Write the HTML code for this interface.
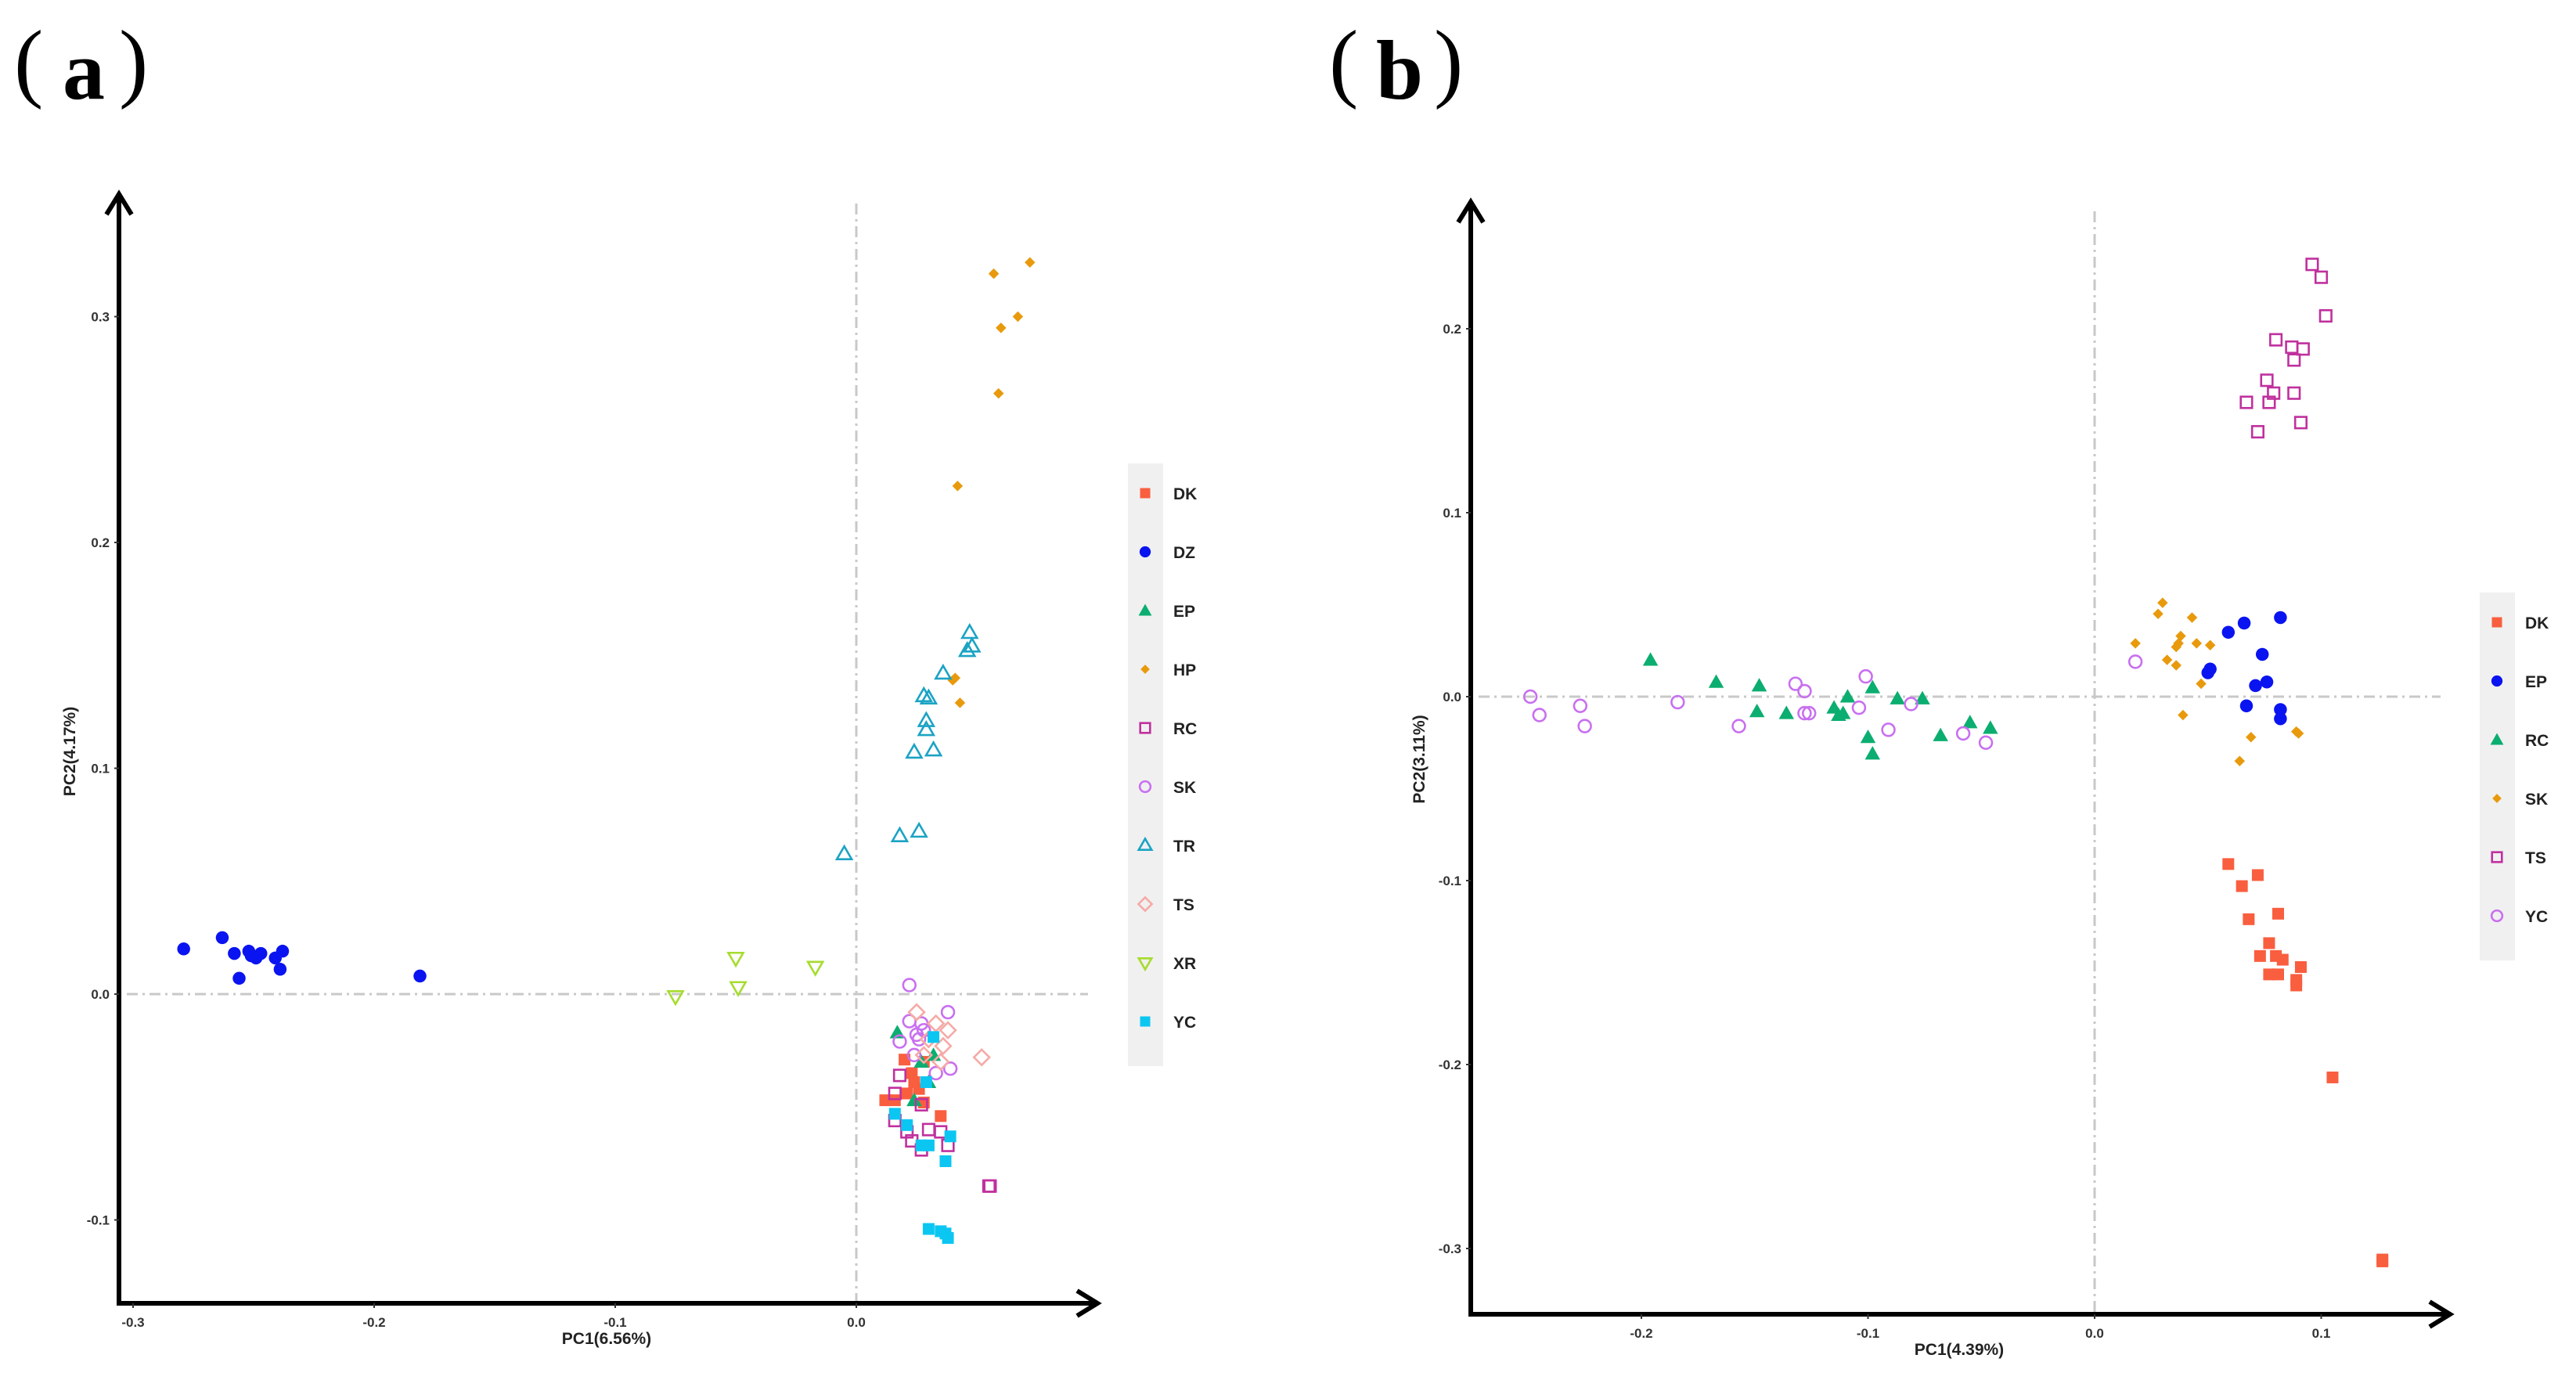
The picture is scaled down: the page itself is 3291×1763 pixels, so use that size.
<!DOCTYPE html>
<html><head><meta charset="utf-8">
<style>
html,body{margin:0;padding:0;background:#fff;}
svg{display:block;}
text{font-family:"Liberation Sans",sans-serif;}
text.serif{font-family:"Liberation Serif",serif;}
</style></head>
<body>
<svg id="chart" width="3291" height="1763" viewBox="0 0 3291 1763" xmlns="http://www.w3.org/2000/svg">
<g fill="#000">
<text class="serif" x="18" y="116" font-size="112">(</text>
<text class="serif" x="80" y="126" font-size="108" font-weight="bold">a</text>
<text class="serif" x="152" y="116" font-size="112">)</text>
</g>
<g fill="#000">
<text class="serif" x="1698" y="116" font-size="112">(</text>
<text class="serif" x="1758" y="126" font-size="108" font-weight="bold">b</text>
<text class="serif" x="1832" y="116" font-size="112">)</text>
</g>
</svg>
<script>
// ---------- Panel A data ----------
const aGroups = ["DK","DZ","EP","HP","RC","SK","TR","TS","XR","YC"];
const aXTicks = [-0.3,-0.2,-0.1,0.0];
const aYTicks = [-0.1,0.0,0.1,0.2,0.3];
const aDK_x = [0.020,0.028,0.024,0.012,0.016,0.021,0.026,0.028,0.035,0.023];
const aDK_y = [-0.029,-0.030,-0.039,-0.047,-0.047,-0.044,-0.042,-0.048,-0.054,-0.035];
const aDZ_x = [-0.279,-0.263,-0.258,-0.252,-0.251,-0.249,-0.247,-0.241,-0.238,-0.239,-0.256,-0.181];
const aDZ_y = [0.020,0.025,0.018,0.019,0.017,0.016,0.018,0.016,0.019,0.011,0.007,0.008];
const aEP_x = [0.017,0.032,0.030,0.024,0.027];
const aEP_y = [-0.017,-0.027,-0.039,-0.047,-0.030];
const aHP_x = [0.057,0.072,0.067,0.060,0.059,0.042,0.040,0.041,0.043];
const aHP_y = [0.319,0.324,0.300,0.295,0.266,0.225,0.139,0.140,0.129];
const aRC_x = [0.018,0.016,0.016,0.021,0.023,0.027,0.030,0.035,0.038,0.055,0.0555,0.027];
const aRC_y = [-0.036,-0.044,-0.056,-0.061,-0.065,-0.069,-0.060,-0.061,-0.067,-0.085,-0.085,-0.049];
const aSK_x = [0.022,0.038,0.022,0.027,0.025,0.018,0.039,0.033,0.026,0.028,0.024];
const aSK_y = [0.004,-0.008,-0.012,-0.013,-0.018,-0.021,-0.033,-0.035,-0.020,-0.016,-0.027];
const aTR_x = [0.047,0.048,0.046,0.036,0.028,0.030,0.029,0.029,0.024,0.032,0.018,0.026,-0.005];
const aTR_y = [0.160,0.154,0.152,0.142,0.132,0.131,0.121,0.117,0.107,0.108,0.070,0.072,0.062];
const aTS_x = [0.025,0.033,0.038,0.052,0.036,0.030,0.035,0.028];
const aTS_y = [-0.008,-0.013,-0.016,-0.028,-0.023,-0.020,-0.030,-0.027];
const aXR_x = [-0.075,-0.050,-0.049,-0.017];
const aXR_y = [-0.001,0.016,0.003,0.012];
const aYC_x = [0.016,0.021,0.027,0.030,0.037,0.039,0.030,0.035,0.037,0.038,0.032,0.029];
const aYC_y = [-0.053,-0.058,-0.067,-0.067,-0.074,-0.063,-0.104,-0.105,-0.106,-0.108,-0.019,-0.039];

// ---------- Panel B data ----------
const bGroups = ["DK","EP","RC","SK","TS","YC"];
const bXTicks = [-0.2,-0.1,0.0,0.1];
const bYTicks = [-0.3,-0.2,-0.1,0.0,0.1,0.2];
const bDK_x = [0.059,0.065,0.072,0.068,0.081,0.077,0.073,0.080,0.083,0.091,0.077,0.081,0.089,0.089,0.105,0.127,0.127];
const bDK_y = [-0.091,-0.103,-0.097,-0.121,-0.118,-0.134,-0.141,-0.141,-0.143,-0.147,-0.151,-0.151,-0.154,-0.157,-0.207,-0.306,-0.307];
const bEP_x = [0.059,0.066,0.082,0.074,0.050,0.051,0.076,0.071,0.067,0.082,0.082];
const bEP_y = [0.035,0.040,0.043,0.023,0.013,0.015,0.008,0.006,-0.005,-0.007,-0.012];
const bRC_x = [-0.196,-0.167,-0.148,-0.149,-0.136,-0.115,-0.113,-0.111,-0.109,-0.098,-0.100,-0.098,-0.087,-0.076,-0.068,-0.055,-0.046];
const bRC_y = [0.020,0.008,0.006,-0.008,-0.009,-0.006,-0.010,-0.009,0.000,0.005,-0.022,-0.031,-0.001,-0.001,-0.021,-0.014,-0.017];
const bSK_x = [0.030,0.028,0.018,0.043,0.038,0.037,0.036,0.045,0.051,0.032,0.036,0.047,0.039,0.069,0.089,0.090,0.064];
const bSK_y = [0.051,0.045,0.029,0.043,0.033,0.029,0.027,0.029,0.028,0.020,0.017,0.007,-0.010,-0.022,-0.019,-0.020,-0.035];
const bTS_x = [0.096,0.100,0.102,0.080,0.087,0.092,0.088,0.076,0.079,0.088,0.067,0.077,0.091,0.072];
const bTS_y = [0.235,0.228,0.207,0.194,0.190,0.189,0.183,0.172,0.165,0.165,0.160,0.160,0.149,0.144];
const bYC_x = [-0.249,-0.245,-0.227,-0.225,-0.184,-0.157,-0.132,-0.128,-0.128,-0.126,-0.104,-0.101,-0.091,-0.081,-0.058,-0.048,0.018];
const bYC_y = [0.000,-0.010,-0.005,-0.016,-0.003,-0.016,0.007,0.003,-0.009,-0.009,-0.006,0.011,-0.018,-0.004,-0.020,-0.025,0.019];

const NS = "http://www.w3.org/2000/svg";
const svg = document.getElementById('chart');
function mk(tag, attrs, parent){
  const e = document.createElementNS(NS, tag);
  for (const k in attrs) e.setAttribute(k, attrs[k]);
  (parent||svg).appendChild(e);
  return e;
}
const styles = {
  DK:{shape:'sq',fill:'#F95E3F'}, DZ:{shape:'ci',fill:'#0A14F0'}, EP:{shape:'tri',fill:'#0BAE70'},
  HP:{shape:'dia',fill:'#E89A0C'}, RC:{shape:'osq',stroke:'#C0309E'}, SK:{shape:'oci',stroke:'#C870F0'},
  TR:{shape:'otri',stroke:'#1BA3C4'}, TS:{shape:'odia',stroke:'#F6AAA6'}, XR:{shape:'oitri',stroke:'#A6DC2E'},
  YC:{shape:'sq',fill:'#0CC6F2'}
};
const stylesB = {
  DK:{shape:'sq',fill:'#F95E3F'}, EP:{shape:'ci',fill:'#0A14F0'}, RC:{shape:'tri',fill:'#0BAE70'},
  SK:{shape:'dia',fill:'#E89A0C'}, TS:{shape:'osq',stroke:'#C0309E'}, YC:{shape:'oci',stroke:'#C870F0'}
};
function marker(g, st, x, y, s){
  let e;
  const sw = 2.6;
  const o = s*0.88;
  switch(st.shape){
    case 'sq': e = mk('rect',{x:x-s*0.5,y:y-s*0.5,width:s,height:s,fill:st.fill},g); break;
    case 'ci': e = mk('circle',{cx:x,cy:y,r:s*0.55,fill:st.fill},g); break;
    case 'tri': e = mk('polygon',{points:`${x},${y-s*0.65} ${x-s*0.65},${y+s*0.5} ${x+s*0.65},${y+s*0.5}`,fill:st.fill},g); break;
    case 'dia': e = mk('polygon',{points:`${x},${y-s*0.45} ${x+s*0.45},${y} ${x},${y+s*0.45} ${x-s*0.45},${y}`,fill:st.fill},g); break;
    case 'osq': e = mk('rect',{x:x-o*0.55,y:y-o*0.55,width:o*1.1,height:o*1.1,fill:'none',stroke:st.stroke,'stroke-width':sw},g); break;
    case 'oci': e = mk('circle',{cx:x,cy:y,r:o*0.6,fill:'none',stroke:st.stroke,'stroke-width':sw},g); break;
    case 'otri': e = mk('polygon',{points:`${x},${y-o*0.75} ${x-o*0.72},${y+o*0.5} ${x+o*0.72},${y+o*0.5}`,fill:'none',stroke:st.stroke,'stroke-width':sw},g); break;
    case 'odia': e = mk('polygon',{points:`${x},${y-o*0.75} ${x+o*0.75},${y} ${x},${y+o*0.75} ${x-o*0.75},${y}`,fill:'none',stroke:st.stroke,'stroke-width':sw},g); break;
    case 'oitri': e = mk('polygon',{points:`${x},${y+o*0.75} ${x-o*0.72},${y-o*0.5} ${x+o*0.72},${y-o*0.5}`,fill:'none',stroke:st.stroke,'stroke-width':sw},g); break;
  }
  return e;
}
function arrowHead(g, x, y, dir){
  const L=26, W=16;
  let d;
  if (dir==='up') d=`M${x-W},${y+L} L${x},${y} L${x+W},${y+L}`;
  else d=`M${x-L},${y-W} L${x},${y} L${x-L},${y+W}`;
  mk('path',{d:d,fill:'none',stroke:'#000','stroke-width':6,'stroke-linejoin':'miter'},g);
}
function panel(cfg){
  const g = mk('g',{});
  
  
  const sx = v => cfg.x0 + v*cfg.kx;
  const sy = v => cfg.y0 - v*cfg.ky;
  const rv = mk('line',{x1:sx(0),y1:cfg.top+10,x2:sx(0),y2:cfg.axisY,stroke:'#c8c8c8','stroke-width':3,'stroke-dasharray':'14,6,3,6'},g);
  
  
  const rh = mk('line',{x1:cfg.axisX+10,y1:sy(0),x2:cfg.right-10,y2:sy(0),stroke:'#c8c8c8','stroke-width':3,'stroke-dasharray':'14,6,3,6'},g);
  
  
  const ax = mk('g',{},g);
  
  
  mk('line',{x1:cfg.axisX,y1:cfg.axisY,x2:cfg.right,y2:cfg.axisY,stroke:'#000','stroke-width':6},ax);
  mk('line',{x1:cfg.axisX,y1:cfg.axisY+3,x2:cfg.axisX,y2:cfg.top,stroke:'#000','stroke-width':6},ax);
  arrowHead(ax, cfg.axisX, cfg.top-2, 'up');
  arrowHead(ax, cfg.right+2, cfg.axisY, 'right');
  cfg.xt.forEach(v=>{
    mk('line',{x1:sx(v),y1:cfg.axisY,x2:sx(v),y2:cfg.axisY+6,stroke:'#333','stroke-width':2},ax);
    const t = mk('text',{x:sx(v),y:cfg.axisY+30,'text-anchor':'middle','font-size':17,'font-weight':'bold',fill:'#333'},ax);
    t.textContent = v.toFixed(1);
    
    
  });
  cfg.yt.forEach(v=>{
    mk('line',{x1:cfg.axisX-6,y1:sy(v),x2:cfg.axisX,y2:sy(v),stroke:'#333','stroke-width':2},ax);
    const t = mk('text',{x:cfg.axisX-12,y:sy(v)+6,'text-anchor':'end','font-size':17,'font-weight':'bold',fill:'#333'},ax);
    t.textContent = v.toFixed(1);
    
    
  });
  const xt = mk('text',{x:cfg.xTitleX,y:cfg.axisY+52,'text-anchor':'middle','font-size':21,'font-weight':'bold',fill:'#222'},g);
  xt.textContent = cfg.xTitle;
  
  
  const yt = mk('text',{x:0,y:0,'text-anchor':'middle','font-size':21,'font-weight':'bold',fill:'#222',transform:`translate(${cfg.yTitleX},${cfg.yTitleY}) rotate(-90)`},g);
  yt.textContent = cfg.yTitle;
  
  
  cfg.groups.forEach(gr=>{
    const sg = mk('g',{},g);
    
    
    const xs = cfg.data[gr][0], ys = cfg.data[gr][1];
    xs.forEach((xv,i)=>{
      const m = marker(sg, cfg.st[gr], sx(xv), sy(ys[i]), 15);
      
      
    });
  });
  const lg = mk('g',{},g);
  
  
  mk('rect',{x:cfg.legX,y:cfg.legY,width:45,height:cfg.groups.length*cfg.legStep+20,fill:'#f0f0f0'},lg);
  cfg.groups.forEach((gr,i)=>{
    const cy = cfg.legY+38+i*cfg.legStep;
    const e = mk('g',{},lg);
    
    
    marker(e, cfg.st[gr], cfg.legX+22, cy, 13);
    const t = mk('text',{x:cfg.legX+58,y:cy+8,'font-size':21,'font-weight':'bold',fill:'#222'},e);
    t.textContent = gr;
  });
}
panel({name:'panel-a', x0:1094, kx:3080, y0:1270, ky:2885, axisX:152, axisY:1665, top:250, right:1400,
  xt:aXTicks, yt:aYTicks, xTitle:'PC1(6.56%)', yTitle:'PC2(4.17%)', xTitleX:775, yTitleX:96, yTitleY:960,
  groups:aGroups, st:styles, legX:1441, legY:592, legStep:75,
  data:{DK:[aDK_x,aDK_y],DZ:[aDZ_x,aDZ_y],EP:[aEP_x,aEP_y],HP:[aHP_x,aHP_y],RC:[aRC_x,aRC_y],SK:[aSK_x,aSK_y],TR:[aTR_x,aTR_y],TS:[aTS_x,aTS_y],XR:[aXR_x,aXR_y],YC:[aYC_x,aYC_y]}});
panel({name:'panel-b', x0:2676, kx:2895, y0:890, ky:2350, axisX:1879, axisY:1679, top:260, right:3128,
  xt:bXTicks, yt:bYTicks, xTitle:'PC1(4.39%)', yTitle:'PC2(3.11%)', xTitleX:2503, yTitleX:1820, yTitleY:970,
  groups:bGroups, st:stylesB, legX:3168, legY:757, legStep:75,
  data:{DK:[bDK_x,bDK_y],EP:[bEP_x,bEP_y],RC:[bRC_x,bRC_y],SK:[bSK_x,bSK_y],TS:[bTS_x,bTS_y],YC:[bYC_x,bYC_y]}});
</script>
</body></html>
